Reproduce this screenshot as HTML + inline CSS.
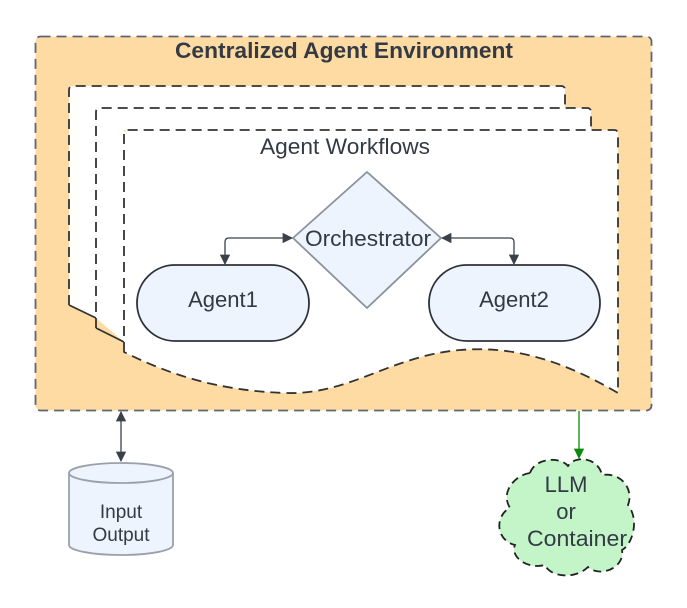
<!DOCTYPE html>
<html><head><meta charset="utf-8"><style>
body{margin:0;background:#fff;}
svg{display:block;font-family:"Liberation Sans",Arial,sans-serif;}
</style></head><body>
<svg width="687" height="608" viewBox="0 0 687 608" xmlns="http://www.w3.org/2000/svg">
<defs>
<marker id="a" viewBox="0 0 10 10" refX="9" refY="5" markerWidth="8" markerHeight="8" orient="auto-start-reverse"><path d="M0,0 L10,5 L0,10 z" fill="#3a414a"/></marker>
<marker id="g" viewBox="0 0 10 10" refX="9" refY="5" markerWidth="8" markerHeight="8" orient="auto"><path d="M0,0 L10,5 L0,10 z" fill="#0a8a0a"/></marker>
</defs>
<rect x="35.5" y="36.5" width="616" height="374" rx="5" fill="#fedba3" stroke="#5e6570" stroke-width="1.8" stroke-dasharray="10,6"/>
<text x="344" y="58" text-anchor="middle" font-size="22" font-weight="bold" fill="#333a44" textLength="338" lengthAdjust="spacingAndGlyphs">Centralized Agent Environment</text>
<path d="M69,305 L96,318 L96,112 Q96,108 100,108 L561,108 L565,108 L565,90 Q565,86 561,86 L73,86 Q69,86 69,90 Z" fill="#fff" stroke="none"/>
<path d="M69,305 L69,90 Q69,86 73,86 L561,86 Q565,86 565,90 L565,108" fill="none" stroke="#333" stroke-width="1.8" stroke-dasharray="10,6"/>
<path d="M69,305 L96,318" fill="none" stroke="#333" stroke-width="1.8"/>
<path d="M96,318 L96,112 Q96,108 100,108 L587,108 Q591,108 591,112 L591,130 L124,130 L124,342 Z" fill="#fff"/>
<path d="M96,328 L96,112 Q96,108 100,108 L587,108 Q591,108 591,112 L591,130" fill="none" stroke="#333" stroke-width="1.8" stroke-dasharray="10,6"/>
<path d="M96,328 L124,342" fill="none" stroke="#333" stroke-width="1.8"/>
<path d="M124,352 L124,134 Q124,130 128,130 L614,130 Q618,130 618,134 L618,393 C570,365 520,345 460,350 C390,356 350,395 286,393 C220,391 170,375 124,352 Z" fill="#fff" stroke="#333" stroke-width="1.8" stroke-dasharray="10,6"/>
<text x="345" y="154" text-anchor="middle" font-size="22" fill="#333a44" textLength="170" lengthAdjust="spacingAndGlyphs">Agent Workflows</text>
<path d="M367,172 L441,238 L367,308 L293,238 Z" fill="#edf4fe" stroke="#8a929c" stroke-width="1.8" stroke-linejoin="round"/>
<text x="368" y="246" text-anchor="middle" font-size="22" fill="#333a44" textLength="126" lengthAdjust="spacingAndGlyphs">Orchestrator</text>
<rect x="137" y="265" width="172" height="76" rx="38" fill="#edf4fe" stroke="#2e3238" stroke-width="1.8"/>
<text x="223" y="307" text-anchor="middle" font-size="22" fill="#333a44">Agent1</text>
<rect x="429" y="265" width="171" height="76" rx="38" fill="#edf4fe" stroke="#2e3238" stroke-width="1.8"/>
<text x="514" y="307" text-anchor="middle" font-size="22" fill="#333a44">Agent2</text>
<path d="M292,238 L229,238 Q225,238 225,242 L225,264" fill="none" stroke="#3a414a" stroke-width="1.3" marker-start="url(#a)" marker-end="url(#a)"/>
<path d="M442,238 L510,238 Q514,238 514,242 L514,264" fill="none" stroke="#3a414a" stroke-width="1.3" marker-start="url(#a)" marker-end="url(#a)"/>
<path d="M121,412 L121,461" fill="none" stroke="#3a414a" stroke-width="1.3" marker-start="url(#a)" marker-end="url(#a)"/>
<path d="M69,473 L69,545 A52,10 0 0 0 173,545 L173,473" fill="#edf4fe" stroke="#9aa1aa" stroke-width="1.8"/>
<ellipse cx="121" cy="473" rx="52" ry="10" fill="#edf4fe" stroke="#9aa1aa" stroke-width="1.8"/>
<text x="121" y="518" text-anchor="middle" font-size="19" fill="#333a44">Input</text>
<text x="121" y="541" text-anchor="middle" font-size="19" fill="#333a44">Output</text>
<path d="M579,411 L579,458" fill="none" stroke="#0a8a0a" stroke-width="1.3" marker-end="url(#g)"/>
<path d="M530,473 C535,458 560,456 568,466 C575,455 598,457 602,475 C622,472 634,490 628,505 C640,520 632,545 622,550 C625,568 600,578 588,567 C575,580 550,577 545,565 C525,570 510,555 515,545 C495,540 495,515 510,508 C500,492 515,475 530,473 Z" fill="#c3f5c8" stroke="#222" stroke-width="1.8" stroke-dasharray="8,5"/>
<text x="566" y="492" text-anchor="middle" font-size="22" fill="#333a44">LLM</text>
<text x="566" y="519" text-anchor="middle" font-size="22" fill="#333a44">or</text>
<text x="577" y="546" text-anchor="middle" font-size="22" fill="#333a44" textLength="100" lengthAdjust="spacingAndGlyphs">Container</text>
</svg>
</body></html>
